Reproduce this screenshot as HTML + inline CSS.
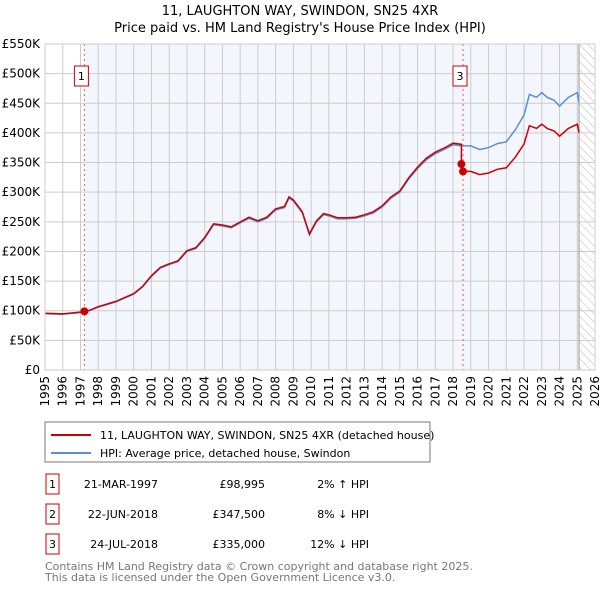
<!DOCTYPE html>
<html><head><meta charset="utf-8"><style>
body{margin:0;background:#fff;font-family:"DejaVu Sans","Liberation Sans",sans-serif;}
svg text{font-family:"DejaVu Sans","Liberation Sans",sans-serif;}
</style></head><body>
<svg id="c" width="600" height="590" xmlns="http://www.w3.org/2000/svg">
<defs><pattern id="hatch" width="6" height="6" patternUnits="userSpaceOnUse" patternTransform="rotate(-45)"><line x1="0" y1="0" x2="0" y2="6" stroke="#bbb" stroke-width="1"/></pattern></defs>
<text x="300" y="15" text-anchor="middle" font-size="13">11, LAUGHTON WAY, SWINDON, SN25 4XR</text>
<text x="300" y="32" text-anchor="middle" font-size="13">Price paid vs. HM Land Registry's House Price Index (HPI)</text>
<g id="plot"></g>
<rect x="45" y="422" width="385" height="40" fill="#fff" stroke="#777"/>
<line x1="51" y1="435" x2="91" y2="435" stroke="#cc0000" stroke-width="2"/>
<text x="100" y="439" font-size="11">11, LAUGHTON WAY, SWINDON, SN25 4XR (detached house)</text>
<line x1="51" y1="453" x2="91" y2="453" stroke="#5b8fd4" stroke-width="2"/>
<text x="100" y="457" font-size="11">HPI: Average price, detached house, Swindon</text>
<g id="tbl"></g>
<text x="45" y="570" font-size="11" fill="#777">Contains HM Land Registry data © Crown copyright and database right 2025.</text>
<text x="45" y="581" font-size="11" fill="#777">This data is licensed under the Open Government Licence v3.0.</text>
</svg>
<script>
const hpiYears=[1995,1996,1997,1997.5,1998,1999,2000,2000.5,2001,2001.5,2002,2002.5,2003,2003.5,2004,2004.5,2005,2005.5,2006,2006.5,2007,2007.5,2008,2008.5,2008.75,2009,2009.5,2009.9,2010.3,2010.7,2011,2011.5,2012,2012.5,2013,2013.5,2014,2014.5,2015,2015.5,2016,2016.5,2017,2017.5,2018,2018.5,2019,2019.5,2020,2020.5,2021,2021.5,2022,2022.3,2022.7,2023,2023.3,2023.7,2024,2024.5,2025,2025.1];
const hpiValues=[95,94,97,100,106,115,128,140,158,172,178,183,200,205,222,245,243,240,248,256,250,256,270,274,290,285,265,228,250,262,260,255,255,256,260,265,275,290,300,322,340,355,365,372,380,378,378,372,375,382,385,405,430,465,460,468,460,455,445,460,468,452];
const saleYears=[1997.22,2018.47,2018.56];
const salePrices=[98995,347500,335000];
const saleLabels=["1","2","3"];
const saleDates=["21-MAR-1997","22-JUN-2018","24-JUL-2018"];
const salePriceText=["£98,995","£347,500","£335,000"];
const saleDiffText=["2% ↑ HPI","8% ↓ HPI","12% ↓ HPI"];
const yTicks=[0,50,100,150,200,250,300,350,400,450,500,550];
const yTickLabels=["£0","£50K","£100K","£150K","£200K","£250K","£300K","£350K","£400K","£450K","£500K","£550K"];
const xTicks=[1995,1996,1997,1998,1999,2000,2001,2002,2003,2004,2005,2006,2007,2008,2009,2010,2011,2012,2013,2014,2015,2016,2017,2018,2019,2020,2021,2022,2023,2024,2025,2026];
const dataEnd=2025.1;

const NS="http://www.w3.org/2000/svg";
const L=45,R=595,T=44,B=370;
const X=y=>L+(y-1995)*(R-L)/31;
const Y=k=>B-k*(B-T)/550;
const g=document.getElementById('plot');
function mk(tag,attrs,parent){const e=document.createElementNS(NS,tag);for(const k in attrs)e.setAttribute(k,attrs[k]);(parent||g).appendChild(e);return e;}
let r=mk('rect',{x:X(saleYears[0]),y:T,width:X(dataEnd)-X(saleYears[0]),height:B-T,fill:'#f3f6fd'});


r=mk('rect',{x:X(dataEnd),y:T,width:R-X(dataEnd),height:B-T,fill:'url(#hatch)'});


xTicks.forEach((t,i)=>{
 let l=mk('line',{x1:X(t),y1:T,x2:X(t),y2:B,stroke:'#ccc','stroke-width':1});
 
 
 let tx=mk('text',{x:0,y:0,'font-size':12,'text-anchor':'end',transform:`translate(${X(t)+4},${B+6}) rotate(-90)`});
 tx.textContent=t;
 
 
});
yTicks.forEach((t,i)=>{
 let l=mk('line',{x1:L,y1:Y(t),x2:R,y2:Y(t),stroke:'#ccc','stroke-width':1});
 
 
 let tx=mk('text',{x:L-5,y:Y(t)+4,'font-size':12,'text-anchor':'end'});
 tx.textContent=yTickLabels[i];
 
 
});
let vl=mk('line',{x1:X(dataEnd),y1:T,x2:X(dataEnd),y2:B,stroke:'#999','stroke-width':1});


saleYears.forEach((s,i)=>{
 if(i==1)return;
 let l=mk('line',{x1:X(s),y1:T,x2:X(s),y2:B,stroke:'#e06060','stroke-width':1,'stroke-dasharray':'2,3'});
 
 
});
const hpiPts=hpiYears.map((y,i)=>X(y).toFixed(1)+','+Y(hpiValues[i]).toFixed(1));
let p=mk('polyline',{points:hpiPts.join(' '),fill:'none',stroke:'#5b8fd4','stroke-width':1.5});


function hpiAt(y){for(let i=1;i<hpiYears.length;i++){if(y<=hpiYears[i]){const f=(y-hpiYears[i-1])/(hpiYears[i]-hpiYears[i-1]);return hpiValues[i-1]+f*(hpiValues[i]-hpiValues[i-1]);}}return hpiValues[hpiValues.length-1];}
const redPts=[];
let done=false;
hpiYears.forEach((y,i)=>{
 let ratio;
 if(y<saleYears[1]) ratio=(salePrices[0]/1000)/hpiAt(saleYears[0]);
 else ratio=(salePrices[2]/1000)/hpiAt(saleYears[2]);
 if(y>=saleYears[1]&&!done){
  redPts.push(X(saleYears[1])+','+Y(hpiAt(saleYears[1])*(salePrices[0]/1000)/hpiAt(saleYears[0])));
  redPts.push(X(saleYears[1])+','+Y(salePrices[1]/1000));
  redPts.push(X(saleYears[2])+','+Y(salePrices[2]/1000));
  done=true;
 }
 redPts.push(X(y).toFixed(1)+','+Y(hpiValues[i]*ratio).toFixed(1));
});
p=mk('polyline',{points:redPts.join(' '),fill:'none',stroke:'#cc0000','stroke-width':1.5});


saleYears.forEach((s,i)=>{
 let c=mk('circle',{cx:X(s),cy:Y(salePrices[i]/1000),r:4,fill:'#cc0000'});
 
 
});
[0,2].forEach(i=>{
 let b=mk('rect',{x:X(saleYears[i])-10,y:66,width:14,height:20,fill:'#fff',stroke:'#cc0000','stroke-width':1});
 
 
 let t=mk('text',{x:X(saleYears[i])-3,y:80,'font-size':11,'text-anchor':'middle'});
 t.textContent=saleLabels[i];
 
 
});
let ax=mk('rect',{x:L,y:T,width:R-L,height:B-T,fill:'none',stroke:'#ccc'});


const tb=document.getElementById('tbl');
saleLabels.forEach((lab,i)=>{
 const cy=483+i*30;
 let b=mk('rect',{x:46,y:cy-9,width:13,height:20,fill:'#fff',stroke:'#cc0000'},tb);
 
 
 let t=mk('text',{x:52.5,y:cy+5,'font-size':11,'text-anchor':'middle'},tb);t.textContent=lab;
 
 
 t=mk('text',{x:158,y:cy+5,'font-size':11,'text-anchor':'end'},tb);t.textContent=saleDates[i];
 
 
 t=mk('text',{x:265,y:cy+5,'font-size':11,'text-anchor':'end'},tb);t.textContent=salePriceText[i];
 
 
 t=mk('text',{x:369,y:cy+5,'font-size':11,'text-anchor':'end'},tb);t.textContent=saleDiffText[i];
 
 
});
</script>
</body></html>
